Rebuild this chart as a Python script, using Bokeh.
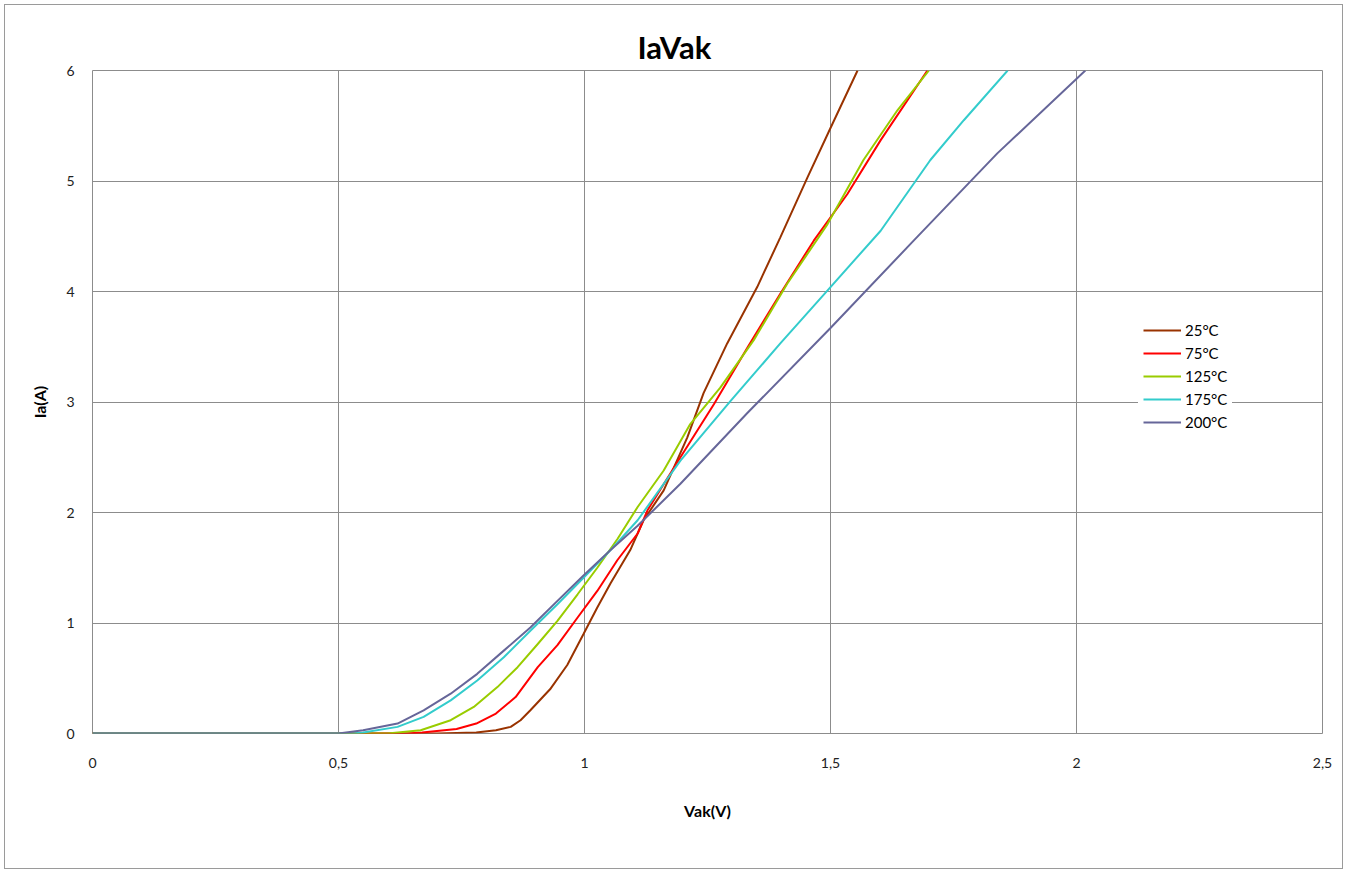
from bokeh.plotting import figure
from bokeh.models import Range1d, FixedTicker, Legend, LegendItem
from bokeh.embed import file_html
from bokeh.resources import INLINE

# ---- data ----
x_25 = [0, 0.70, 0.78, 0.82, 0.85, 0.87, 0.89, 0.93, 0.965, 0.998, 1.026, 1.053, 1.093, 1.12, 1.161, 1.209, 1.242, 1.29, 1.351, 1.398, 1.453, 1.5, 1.555]
y_25 = [0, 0, 0.01, 0.03, 0.06, 0.12, 0.21, 0.40, 0.62, 0.90, 1.14, 1.36, 1.66, 1.93, 2.20, 2.68, 3.08, 3.53, 4.04, 4.49, 5.03, 5.48, 6.0]

x_75 = [0, 0.64, 0.67, 0.74, 0.78, 0.82, 0.86, 0.905, 0.945, 0.986, 1.026, 1.067, 1.108, 1.128, 1.195, 1.263, 1.331, 1.398, 1.466, 1.534, 1.602, 1.697]
y_75 = [0, 0, 0.01, 0.04, 0.09, 0.18, 0.33, 0.60, 0.80, 1.05, 1.29, 1.57, 1.81, 2.02, 2.50, 2.98, 3.49, 3.98, 4.46, 4.88, 5.37, 6.0]

x_125 = [0, 0.60, 0.667, 0.728, 0.775, 0.823, 0.864, 0.905, 0.945, 0.986, 1.026, 1.067, 1.108, 1.161, 1.215, 1.276, 1.344, 1.412, 1.494, 1.567, 1.636, 1.70]
y_125 = [0, 0, 0.03, 0.12, 0.24, 0.42, 0.60, 0.81, 1.02, 1.26, 1.50, 1.76, 2.05, 2.38, 2.80, 3.13, 3.56, 4.07, 4.61, 5.19, 5.64, 6.0]

x_175 = [0, 0.53, 0.55, 0.62, 0.673, 0.728, 0.782, 0.836, 0.89, 0.945, 0.998, 1.053, 1.108, 1.195, 1.297, 1.398, 1.5, 1.602, 1.703, 1.771, 1.86]
y_175 = [0, 0, 0.01, 0.06, 0.15, 0.30, 0.48, 0.69, 0.93, 1.17, 1.41, 1.66, 1.93, 2.47, 3.01, 3.53, 4.04, 4.55, 5.19, 5.55, 6.0]

x_200 = [0, 0.50, 0.55, 0.62, 0.673, 0.728, 0.782, 0.836, 0.89, 0.945, 0.998, 1.053, 1.108, 1.195, 1.331, 1.5, 1.669, 1.839, 2.018]
y_200 = [0, 0, 0.03, 0.09, 0.21, 0.36, 0.54, 0.75, 0.96, 1.20, 1.43, 1.66, 1.88, 2.26, 2.90, 3.67, 4.46, 5.25, 6.0]

series_names = ["25°C", "75°C", "125°C", "175°C", "200°C"]
series_x = [x_25, x_75, x_125, x_175, x_200]
series_y = [y_25, y_75, y_125, y_175, y_200]
series_colors = ["#993300", "#FF0000", "#99CC00", "#33CCCC", "#666699"]

x_ticks = [0, 0.5, 1, 1.5, 2, 2.5]
x_tick_labels = ["0", "0,5", "1", "1,5", "2", "2,5"]
y_ticks = [0, 1, 2, 3, 4, 5, 6]

FONT = "Lato"
GRID = "#8c8c8c"

p = figure(width=1339, height=865, output_backend="svg", toolbar_location=None,
           x_range=Range1d(0, 2.5), y_range=Range1d(0, 6),
           min_border_left=87, min_border_right=22, min_border_top=65, min_border_bottom=137)
p.styles = {"border": "1px solid #9a9a9a", "box-sizing": "border-box",
            "margin-left": "4px", "margin-top": "4px"}

p.title.text = "IaVak"
p.title.align = "left"
p.title.offset = 545
p.title.text_font = FONT
p.title.text_font_size = "31px"
p.title.text_font_style = "bold"
p.title.text_color = "#000000"
p.title.standoff = 10

p.outline_line_color = GRID
p.outline_line_width = 1
p.background_fill_color = "white"
p.border_fill_color = "white"

p.xaxis.ticker = FixedTicker(ticks=x_ticks)
p.yaxis.ticker = FixedTicker(ticks=y_ticks)
p.xaxis.major_label_overrides = {t: l for t, l in zip(x_ticks, x_tick_labels)}

for ax in (p.xaxis[0], p.yaxis[0]):
    ax.axis_line_color = None
    ax.major_tick_line_color = None
    ax.minor_tick_line_color = None
    ax.major_label_text_font = FONT
    ax.major_label_text_font_size = "14px"
    ax.major_label_text_color = "#222222"
    ax.axis_label_text_font = FONT
    ax.axis_label_text_font_size = "16px"
    ax.axis_label_text_font_style = "bold"
    ax.axis_label_text_color = "#000000"

p.xaxis.axis_label = "Vak(V)"
p.yaxis.axis_label = "Ia(A)"
p.xaxis.major_label_standoff = 18
p.yaxis.major_label_standoff = 12
p.xaxis.axis_label_standoff = 30
p.yaxis.axis_label_standoff = 14

p.xgrid.ticker = FixedTicker(ticks=x_ticks)
p.ygrid.ticker = FixedTicker(ticks=y_ticks)
p.grid.grid_line_color = GRID
p.grid.grid_line_width = 1

items = []
for name, xs, ys, c in zip(series_names, series_x, series_y, series_colors):
    r = p.line(xs, ys, line_color=c, line_width=2)
    items.append(LegendItem(label=name, renderers=[r]))

legend = Legend(items=items, location=(1046, 297), orientation="vertical",
                border_line_alpha=0, background_fill_color="white", background_fill_alpha=1,
                label_text_font=FONT, label_text_font_size="15px", label_text_color="#000000",
                glyph_width=38, glyph_height=18, label_height=18, label_standoff=4,
                spacing=5, padding=5, margin=0)
p.add_layout(legend)

open("out.html", "w").write(file_html(p, INLINE))
